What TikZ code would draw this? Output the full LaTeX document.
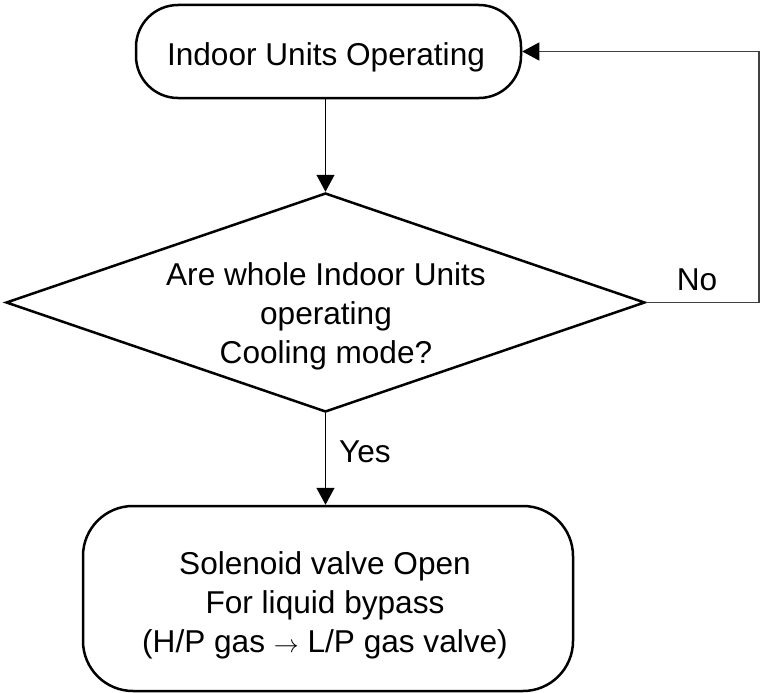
\documentclass[tikz,border=0pt]{standalone}
\usepackage{fontspec}
\setmainfont{Liberation Sans}
\usetikzlibrary{shapes.geometric,arrows.meta}
\begin{document}
\begin{tikzpicture}[x=1pt,y=-1pt,
  box/.style={draw, line width=2.5pt, inner sep=0pt},
  dec/.style={draw, diamond, line width=2.5pt, inner sep=0pt},
  txt/.style={font=\fontsize{31.6pt}{39pt}\selectfont, align=center, inner sep=0pt},
  arr/.style={line width=1.3pt, -{Triangle[length=17pt,width=18pt]}},
  fb/.style={line width=1.1pt, draw=black!75, -{Triangle[length=17pt,width=18pt,color=black]}}
]
\useasboundingbox (0,0) rectangle (760,693);
\node[box, rounded corners=42pt, minimum width=385pt, minimum height=93pt] (start) at (328.5,51.5) {};
\node[txt] (starttxt) at (326,57) {Indoor Units Operating};
\node[dec, minimum width=639pt, minimum height=219pt] (dec) at (325.5,302.5) {};
\node[txt] (dectxt) at (326,316.5) {Are whole Indoor Units\\operating\\Cooling mode?};
\node[box, rounded corners=50pt, minimum width=490pt, minimum height=185pt] (valve) at (328,598.5) {};
\node[txt] (valvetxt) at (325,605.5) {Solenoid valve Open\\For liquid bypass\\(H/P gas \(\rightarrow\) L/P gas valve)};
\coordinate (c1) at (759,302.5);
\coordinate (c2) at (759,51.5);
\draw[arr] (start.south -| dec.north) -- (dec.north);
\draw[arr] (dec.south) -- (dec.south |- valve.north) node[txt, pos=0.42, right=13pt] (yes) {Yes};
\draw[fb] (dec.east) -- (c1) -- (c2) -- (start.east);
\node[txt] (no) at (697,280) {No};
\end{tikzpicture}
\end{document}
